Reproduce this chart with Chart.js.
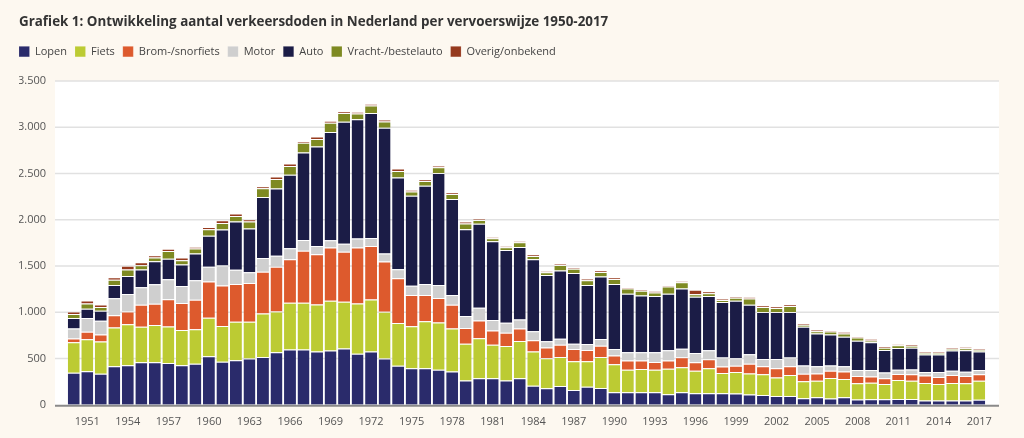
<!DOCTYPE html>
<html lang="nl">
<head>
<meta charset="utf-8">
<title>Verkeersdoden per vervoerswijze 1950-2017</title>
<script src="https://cdn.jsdelivr.net/npm/chart.js@4.4.1/dist/chart.umd.min.js"></script>
<style>
  html, body { margin: 0; padding: 0; background: #fdf8f0; }
  #wrap { width: 1024px; height: 438px; position: relative; }
</style>
</head>
<body>
<div id="wrap"><canvas id="chart"></canvas></div>
<script>
// years 1950 - 2017
const years = [];
for (let y = 1950; y <= 2017; y++) years.push(String(y));

// values
const lopen = [346, 364, 336, 418, 428, 460, 460, 453, 428, 443,
  526, 465, 483, 501, 516, 569, 598, 598, 576, 587,
  609, 551, 576, 501, 421, 396, 396, 378, 360, 263,
  288, 288, 263, 288, 205, 180, 204, 161, 196, 182,
  136, 136, 136, 136, 114, 136, 125, 125, 125, 121,
  111, 107, 96, 96, 71, 82, 68, 82, 57, 61,
  61, 64, 64, 46, 46, 46, 46, 54];
const fiets = [329, 346, 349, 417, 443, 383, 404, 393, 382, 375,
  416, 387, 416, 398, 472, 441, 505, 505, 509, 537,
  504, 544, 562, 505, 464, 453, 507, 511, 464, 396,
  432, 360, 374, 403, 371, 324, 314, 310, 275, 336,
  303, 243, 250, 243, 275, 271, 243, 271, 218, 233,
  228, 222, 200, 225, 183, 179, 221, 197, 175, 178,
  164, 204, 197, 190, 179, 190, 186, 207];
const brom = [43, 79, 75, 132, 139, 239, 228, 296, 290, 317,
  390, 437, 408, 418, 451, 483, 472, 562, 544, 577,
  541, 606, 580, 544, 482, 338, 284, 266, 259, 172,
  191, 155, 141, 133, 122, 115, 132, 133, 122, 121,
  93, 100, 93, 85, 90, 107, 93, 97, 71, 67,
  104, 89, 100, 97, 82, 78, 79, 82, 79, 68,
  61, 64, 68, 82, 75, 85, 79, 68];
const motor = [107, 150, 150, 186, 189, 189, 211, 215, 185, 211,
  161, 218, 154, 115, 147, 118, 118, 118, 89, 78,
  86, 96, 86, 86, 98, 101, 119, 140, 104, 130,
  137, 115, 108, 98, 98, 69, 64, 57, 64, 72,
  72, 89, 89, 104, 110, 93, 100, 96, 97, 83,
  103, 78, 100, 93, 89, 79, 57, 57, 64, 68,
  64, 47, 53, 36, 54, 47, 46, 46];
const auto = [114, 100, 107, 143, 193, 193, 250, 223, 232, 290,
  336, 387, 522, 473, 662, 727, 795, 945, 1074, 1171,
  1321, 1289, 1350, 1360, 992, 971, 1062, 1210, 1037, 936,
  910, 850, 788, 784, 777, 716, 739, 764, 639, 675,
  703, 632, 614, 607, 611, 650, 607, 586, 600, 621,
  536, 507, 507, 492, 418, 353, 336, 318, 318, 300,
  243, 235, 236, 189, 189, 218, 232, 200];
const vracht = [43, 57, 40, 57, 71, 46, 39, 83, 47, 54,
  68, 71, 58, 78, 93, 104, 93, 104, 83, 100,
  93, 64, 82, 68, 72, 47, 51, 62, 54, 64,
  40, 32, 29, 51, 36, 29, 58, 46, 50, 50,
  54, 57, 50, 39, 78, 68, 28, 32, 21, 32,
  68, 54, 43, 65, 21, 25, 32, 35, 35, 21,
  25, 29, 18, 18, 18, 21, 22, 21];
const overig = [28, 32, 28, 25, 40, 32, 25, 25, 28, 18,
  25, 29, 28, 22, 22, 25, 29, 21, 25, 18,
  18, 15, 18, 18, 25, 18, 18, 21, 18, 22,
  11, 11, 11, 11, 15, 11, 10, 11, 15, 14,
  14, 14, 14, 14, 15, 11, 47, 18, 11, 14,
  14, 18, 15, 14, 11, 15, 10, 15, 11, 15,
  14, 10, 10, 7, 7, 11, 14, 11];

const yTicks = [0, 500, 1000, 1500, 2000, 2500, 3000, 3500];

const font = "'Open Sans', 'Noto Sans', sans-serif";

function formatNL(v) {
  return String(v).replace(/\B(?=(\d{3})+(?!\d))/g, ".");
}

// extra room under the legend, and legend flush with the title
const legendGap = {
  id: "legendGap",
  beforeInit(chart) {
    const fit = chart.legend.fit;
    chart.legend.fit = function () {
      fit.bind(chart.legend)();
      this.height += 14;
    };
  },
  afterLayout(chart) {
    chart.legend.left -= chart.legend.options.labels.padding;
  },
};

// white plot area, a bit wider than the bars, with gridlines and base line
const plotBackground = {
  id: "plotBackground",
  beforeDatasetsDraw(chart) {
    const { ctx, chartArea, scales } = chart;
    const left = chartArea.left - 12;
    const right = chartArea.right + 13;
    ctx.save();
    ctx.fillStyle = "#ffffff";
    ctx.fillRect(left, chartArea.top, right - left, chartArea.bottom - chartArea.top);
    ctx.strokeStyle = "#e1e1e1";
    ctx.lineWidth = 1.5;
    yTicks.forEach((v) => {
      if (v === 0) return;
      const y = scales.y.getPixelForValue(v);
      ctx.beginPath();
      ctx.moveTo(left, y);
      ctx.lineTo(right, y);
      ctx.stroke();
    });
    ctx.restore();
  },
  afterDatasetsDraw(chart) {
    const { ctx, chartArea, scales } = chart;
    const y = scales.y.getPixelForValue(0) + 1;
    ctx.save();
    ctx.strokeStyle = "#8a8a8a";
    ctx.lineWidth = 2;
    ctx.beginPath();
    ctx.moveTo(chartArea.left - 12, y);
    ctx.lineTo(chartArea.right + 13, y);
    ctx.stroke();
    ctx.restore();
  },
};

function makeSet(label, data, color) {
  return {
    label: label,
    data: data,
    backgroundColor: color,
    borderColor: "rgba(255,255,255,0.55)",
    borderWidth: { top: 1 },
    categoryPercentage: 0.9,
    barPercentage: 0.98,
  };
}

const ctx = document.getElementById("chart").getContext("2d");
const chart = new Chart(ctx, {
  type: "bar",
  data: {
    labels: years,
    datasets: [
      makeSet("Lopen", lopen, "#2a2b6b"),
      makeSet("Fiets", fiets, "#bccb33"),
      makeSet("Brom-/snorfiets", brom, "#dd5a2d"),
      makeSet("Motor", motor, "#cfcfcf"),
      makeSet("Auto", auto, "#1b1c46"),
      makeSet("Vracht-/bestelauto", vracht, "#7e8a22"),
      makeSet("Overig/onbekend", overig, "#963a1e"),
    ],
  },
  options: {
    responsive: true,
    maintainAspectRatio: false,
    animation: false,
    layout: { padding: { left: 19, right: 38, top: 14, bottom: 0 } },
    plugins: {
      title: {
        display: true,
        text: "Grafiek 1: Ontwikkeling aantal verkeersdoden in Nederland per vervoerswijze 1950-2017",
        align: "start",
        color: "#333333",
        font: { family: font, size: 13.4, weight: "bold" },
        padding: { top: 0, bottom: 8 },
      },
      legend: {
        align: "start",
        labels: {
          boxWidth: 10.5,
          boxHeight: 10.5,
          padding: 8,
          color: "#444444",
          font: { family: font, size: 11 },
        },
      },
      tooltip: { enabled: false },
    },
    scales: {
      x: {
        stacked: true,
        offset: true,
        grid: { display: false, drawTicks: false },
        border: { display: false },
        ticks: {
          autoSkip: false,
          maxRotation: 0,
          padding: 10,
          color: "#555555",
          font: { family: font, size: 11 },
          callback: function (value) {
            const yr = Number(this.getLabelForValue(value));
            return (yr - 1951) % 3 === 0 ? String(yr) : "";
          },
        },
      },
      y: {
        stacked: true,
        min: 0,
        max: 3500,
        afterFit: (scale) => { scale.width = 48; },
        afterBuildTicks: (scale) => { scale.ticks = yTicks.map((v) => ({ value: v })); },
        grid: { display: false, drawTicks: false },
        border: { display: false },
        ticks: {
          padding: 21,
          color: "#555555",
          font: { family: font, size: 11 },
          callback: (v) => formatNL(v),
        },
      },
    },
  },
  plugins: [plotBackground, legendGap],
});
</script>
</body>
</html>
